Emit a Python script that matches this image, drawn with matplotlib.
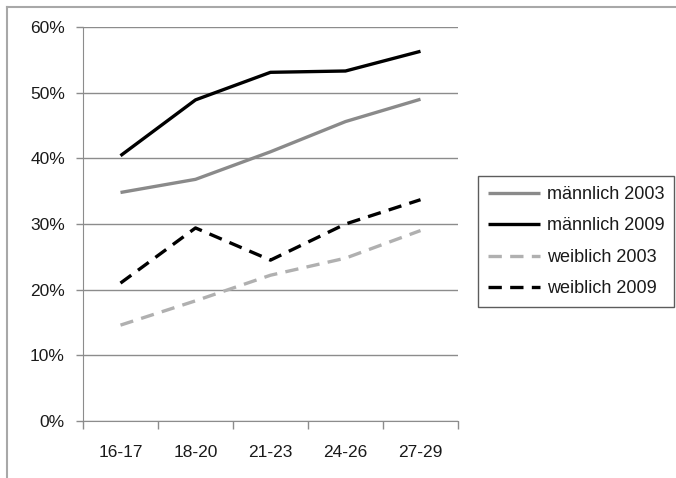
import matplotlib
matplotlib.use("Agg")
import matplotlib.pyplot as plt
from matplotlib.lines import Line2D

plt.rcParams['font.family'] = ['Liberation Sans', 'DejaVu Sans']

categories = ["16-17", "18-20", "21-23", "24-26", "27-29"]
maennlich_2003 = [34.8, 36.8, 41.0, 45.6, 49.0]
maennlich_2009 = [40.4, 48.9, 53.1, 53.3, 56.3]
weiblich_2003 = [14.6, 18.3, 22.2, 24.8, 29.0]
weiblich_2009 = [21.0, 29.4, 24.5, 30.0, 33.7]
yticks = [0, 10, 20, 30, 40, 50, 60]
ytick_labels = ["0%", "10%", "20%", "30%", "40%", "50%", "60%"]

W, H = 676, 478
fig = plt.figure(figsize=(W / 100, H / 100), dpi=100)
ax = fig.add_axes([83/W, 1-421/H, (458-83)/W, (421-27)/H])

x = list(range(len(categories)))
dash = (0, (4.0, 2.5))
ax.plot(x, maennlich_2003, color="#8a8a8a", lw=2.4, label="männlich 2003", solid_capstyle="butt")
ax.plot(x, maennlich_2009, color="#000000", lw=2.4, label="männlich 2009", solid_capstyle="butt")
ax.plot(x, weiblich_2003, color="#b0b0b0", lw=2.4, linestyle=dash, label="weiblich 2003", dash_capstyle="butt")
ax.plot(x, weiblich_2009, color="#000000", lw=2.4, linestyle=dash, label="weiblich 2009", dash_capstyle="butt")

ax.set_xlim(-0.5, len(categories) - 0.5)
ax.set_ylim(0, 60)
ax.set_yticks(yticks)
ax.set_yticklabels(ytick_labels)
ax.set_xticks(x)
ax.set_xticklabels(categories)
ax.set_xticks([i - 0.5 for i in range(len(categories) + 1)], minor=True)
ax.tick_params(axis='x', which='major', length=0, pad=17, labelsize=12.5)
ax.tick_params(axis='x', which='minor', length=6, color="#8c8c8c", width=1)
ax.tick_params(axis='y', which='major', length=5, color="#8c8c8c", width=1, pad=8, labelsize=12.5)
for lbl in ax.get_yticklabels() + ax.get_xticklabels():
    lbl.set_color("#1a1a1a")

ax.grid(axis='y', color="#8c8c8c", lw=1)
ax.set_axisbelow(True)
for s in ["top", "right"]:
    ax.spines[s].set_visible(False)
ax.spines["left"].set_color("#8c8c8c")
ax.spines["bottom"].set_color("#8c8c8c")

leg = ax.legend(loc="upper left", bbox_to_anchor=(478/W, 1-176/H), bbox_transform=fig.transFigure,
                frameon=True, fancybox=False, fontsize=13, handlelength=2.9, handletextpad=0.35,
                labelspacing=0.8, borderpad=0.55, borderaxespad=0)
leg.get_frame().set_edgecolor("#333333")
leg.get_frame().set_linewidth(1)
for t in leg.get_texts():
    t.set_color("#1a1a1a")

fig.lines.append(Line2D([7/W, 1], [1-7/H, 1-7/H], transform=fig.transFigure, color="#a8a8a8", lw=1.5))
fig.lines.append(Line2D([7/W, 7/W], [0, 1-7/H], transform=fig.transFigure, color="#a8a8a8", lw=1.5))

fig.savefig("out.png", dpi=100)
